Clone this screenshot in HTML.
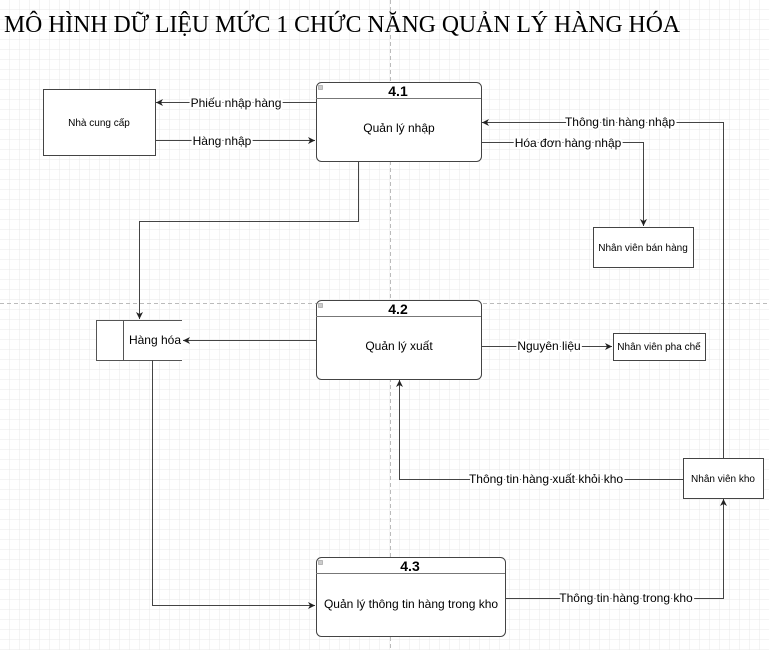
<!DOCTYPE html>
<html><head><meta charset="utf-8"><style>
html,body{margin:0;padding:0;background:#fff;}
svg{display:block;}
text{font-family:"Liberation Sans",sans-serif;fill:#000;}
</style></head><body>
<svg width="769" height="650" xmlns="http://www.w3.org/2000/svg">
<defs>
<pattern id="g" width="10" height="10" patternUnits="userSpaceOnUse">
<path d="M10 0V10H0" fill="none" stroke="#e8e8e8" stroke-width="1"/>
</pattern>
<marker id="a" markerWidth="8" markerHeight="8" refX="7" refY="4" orient="auto" markerUnits="userSpaceOnUse">
<path d="M0,0.5 L7,4 L0,7.5 L2,4 Z" fill="#222"/>
</marker>
</defs>
<rect width="769" height="650" fill="#fff"/>
<rect width="769" height="650" fill="url(#g)"/>
<line x1="390.5" y1="0" x2="390.5" y2="650" stroke="#bbb" stroke-dasharray="4,3"/>
<line x1="0" y1="303.5" x2="769" y2="303.5" stroke="#bbb" stroke-dasharray="4,3"/>

<text x="4" y="32" textLength="676" lengthAdjust="spacingAndGlyphs" style="font-family:'Liberation Serif',serif;font-size:24px">MÔ HÌNH DỮ LIỆU MỨC 1 CHỨC NĂNG QUẢN LÝ HÀNG HÓA</text>

<g fill="#fff" stroke="#444" stroke-width="1">
<rect x="43.5" y="89.5" width="112" height="66"/>
<rect x="316.5" y="82.5" width="165" height="79" rx="5"/>
<rect x="316.5" y="300.5" width="165" height="79" rx="5"/>
<rect x="316.5" y="557.5" width="189" height="79" rx="5"/>
<rect x="593.5" y="227.5" width="100" height="40"/>
<rect x="613.5" y="333.5" width="92" height="27"/>
<rect x="683.5" y="458.5" width="80" height="40"/>
</g>
<g stroke="#777" stroke-width="1">
<line x1="316" y1="98.5" x2="481" y2="98.5"/>
<line x1="316" y1="316.5" x2="481" y2="316.5"/>
<line x1="316" y1="573.5" x2="505" y2="573.5"/>
</g>
<g fill="#ccc" stroke="#888" stroke-width="0.5">
<rect x="318.5" y="85.5" width="4" height="4"/>
<rect x="318.5" y="303.5" width="4" height="4"/>
<rect x="318.5" y="560.5" width="4" height="4"/>
</g>
<rect x="96.5" y="320.5" width="86" height="40" fill="#fff" stroke="none"/>
<path d="M182 320.5H96.5V360.5H182M123.5 320.5V360.5" fill="none" stroke="#555"/>

<g fill="none" stroke="#444" stroke-width="1" marker-end="url(#a)">
<path d="M316 102.5H156"/>
<path d="M155 140.5H315"/>
<path d="M358.5 161V221.5H139.5V319"/>
<path d="M316 340.5H183"/>
<path d="M152.5 360V605.5H315"/>
<path d="M505 598.5H723.5V499"/>
<path d="M683 479.5H399.5V380"/>
<path d="M723.5 458V122.5H482"/>
<path d="M481 142.5H643.5V226"/>
<path d="M481 346.5H612"/>
</g>

<g font-size="12" text-anchor="middle">
<g style="paint-order:stroke" stroke="#fff" stroke-width="4">
<text x="236" y="107">Phiếu nhập hàng</text>
<text x="222" y="145">Hàng nhập</text>
<text x="620" y="126">Thông tin hàng nhập</text>
<text x="568" y="147">Hóa đơn hàng nhập</text>
<text x="549" y="350">Nguyên liệu</text>
<text x="546" y="483">Thông tin hàng xuất khỏi kho</text>
<text x="626" y="602">Thông tin hàng trong kho</text>
</g>
<text x="399" y="132">Quản lý nhập</text>
<text x="399" y="350">Quản lý xuất</text>
<text x="411" y="608">Quản lý thông tin hàng trong kho</text>
<text x="155" y="344">Hàng hóa</text>
</g>
<g font-size="14" font-weight="bold" text-anchor="middle">
<text x="398" y="96">4.1</text>
<text x="398" y="314">4.2</text>
<text x="410" y="571">4.3</text>
</g>
<g font-size="10" text-anchor="middle">
<text x="99" y="126">Nhà cung cấp</text>
<text x="643" y="251">Nhân viên bán hàng</text>
<text x="659" y="350">Nhân viên pha chế</text>
<text x="723" y="482">Nhân viên kho</text>
</g>
</svg>
</body></html>
